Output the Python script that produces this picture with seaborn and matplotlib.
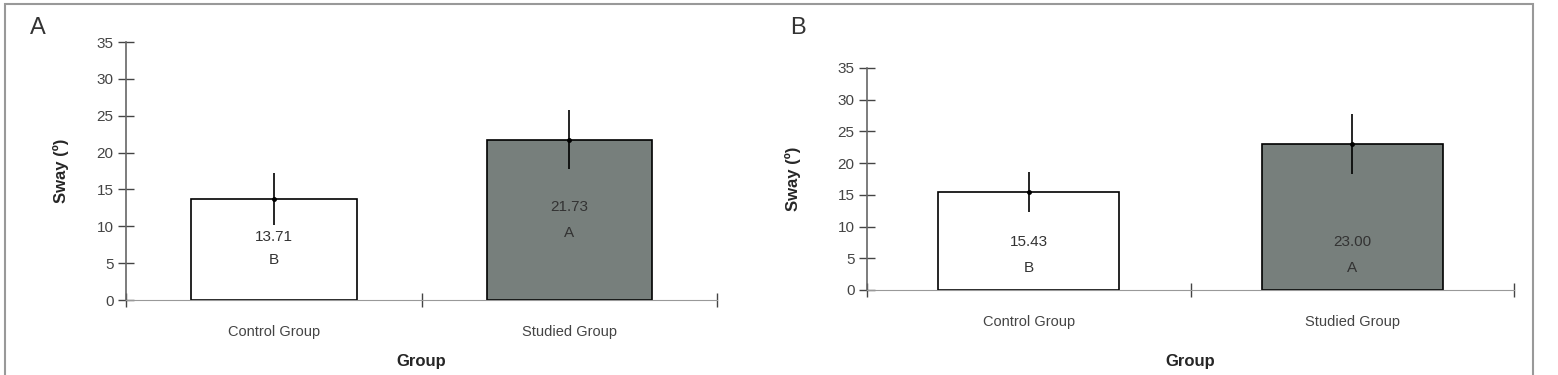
import matplotlib
matplotlib.use("Agg")
import matplotlib.pyplot as plt
import seaborn as sns
from matplotlib.patches import Rectangle

groups = ["Control Group", "Studied Group"]
means_a = [13.71, 21.73]
err_a = [3.5, 4.0]
means_b = [15.43, 23.00]
err_b = [3.2, 4.7]
letters = ["B", "A"]
labels_y_a = [(8.6, 5.4), (12.6, 9.1)]
labels_y_b = [(7.6, 3.5), (7.6, 3.5)]
colors = ["white", "#76807c"]

sns.set_style("white")
plt.rcParams["font.family"] = ["Liberation Sans", "DejaVu Sans"]

fig = plt.figure(figsize=(15.58, 3.75), dpi=100)
axA = fig.add_axes([0.0809, 0.2, 0.3794, 0.688])
axB = fig.add_axes([0.5565, 0.2267, 0.4153, 0.592])


def draw(ax, means, errs, text_y):
    sns.barplot(x=groups, y=means, hue=groups, palette=colors, legend=False,
                width=0.56, edgecolor="black", linewidth=1.2, ax=ax)
    ax.errorbar(range(len(groups)), means, yerr=errs, fmt="o", color="black",
                markersize=2.5, elinewidth=1.2, capsize=0)
    for i, (m, l) in enumerate(zip(means, letters)):
        ax.text(i, text_y[i][0], f"{m:.2f}", ha="center", va="center",
                fontsize=11, color="#333333")
        ax.text(i, text_y[i][1], l, ha="center", va="center",
                fontsize=11, color="#333333")
    ax.set_ylim(0, 35)
    ax.set_xlim(-0.5, 1.5)
    ax.set_yticks(range(0, 36, 5))
    ax.tick_params(axis="y", left=True, direction="inout", length=12, width=1,
                   color="#444444", labelsize=11, labelcolor="#444444", pad=3)
    ax.set_xticks([-0.5, 0.5, 1.5])
    ax.set_xticklabels([])
    ax.tick_params(axis="x", which="major", bottom=True, direction="inout",
                   length=10, width=1, color="#444444")
    ax.set_xticks([0, 1], minor=True)
    ax.set_xticklabels(groups, minor=True)
    ax.tick_params(axis="x", which="minor", bottom=True, length=0, labelsize=10.5,
                   labelcolor="#444444", pad=18)
    for s in ["top", "right"]:
        ax.spines[s].set_visible(False)
    ax.spines["left"].set_color("#666666")
    ax.spines["bottom"].set_color("#999999")
    ax.spines["left"].set_linewidth(1.2)
    ax.set_ylabel("Sway (º)", fontsize=12, fontweight="bold")
    ax.set_xlabel("Group", fontsize=12, fontweight="bold")


draw(axA, means_a, err_a, labels_y_a)
draw(axB, means_b, err_b, labels_y_b)
axA.xaxis.labelpad = 11
axB.xaxis.labelpad = 18
axA.yaxis.labelpad = 20
axB.yaxis.labelpad = 26

fig.text(0.019, 0.925, "A", fontsize=17, color="#333333", va="center")
fig.text(0.507, 0.925, "B", fontsize=17, color="#333333", va="center")

fig.patches.append(Rectangle((0.003, -0.05), 0.981, 1.04, transform=fig.transFigure,
                             fill=False, edgecolor="#999999", linewidth=1.5))

fig.savefig("out.png", dpi=100)
